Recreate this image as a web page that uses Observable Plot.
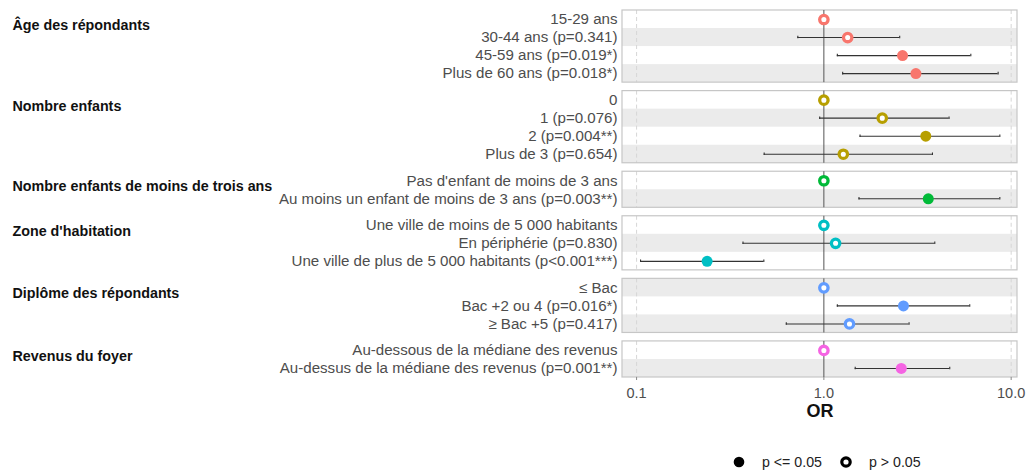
<!DOCTYPE html>
<html>
<head>
<meta charset="utf-8">
<script src="https://cdn.jsdelivr.net/npm/d3@7"></script>
<script src="https://cdn.jsdelivr.net/npm/@observablehq/plot@0.6"></script>
<style>
  html, body { margin: 0; padding: 0; background: #fff; }
  body { width: 1028px; height: 474px; position: relative; overflow: hidden; font-family: "Liberation Sans", Arial, sans-serif; }
  #legend { position: absolute; left: 732px; top: 455px; display: flex; align-items: center; font-size: 14.2px; color: #222; line-height: 14px; }
  #legend svg { display: block; }
  #legend span.l0 { margin-left: 16px; margin-right: 17px; }
  #legend span.l1 { margin-left: 16px; }
</style>
</head>
<body>
<div id="chart"></div>
<div id="legend"></div>
<script>
// ---- data ----
const groups = [
  "Âge des répondants",
  "Nombre enfants",
  "Nombre enfants de moins de trois ans",
  "Zone d'habitation",
  "Diplôme des répondants",
  "Revenus du foyer"
];
const rowGroup = [0,0,0,0, 1,1,1,1, 2,2, 3,3,3, 4,4,4, 5,5];
const rowLabels = [
  "15-29 ans", "30-44 ans (p=0.341)", "45-59 ans (p=0.019*)", "Plus de 60 ans (p=0.018*)",
  "0", "1 (p=0.076)", "2 (p=0.004**)", "Plus de 3 (p=0.654)",
  "Pas d'enfant de moins de 3 ans", "Au moins un enfant de moins de 3 ans (p=0.003**)",
  "Une ville de moins de 5 000 habitants", "En périphérie (p=0.830)", "Une ville de plus de 5 000 habitants (p<0.001***)",
  "≤ Bac", "Bac +2 ou 4 (p=0.016*)", "≥ Bac +5 (p=0.417)",
  "Au-dessous de la médiane des revenus", "Au-dessus de la médiane des revenus (p=0.001**)"
];
const oddsRatio = [1, 1.34, 2.63, 3.10, 1, 2.05, 3.50, 1.27, 1, 3.61, 1, 1.155, 0.238, 1, 2.66, 1.37, 1, 2.59];
const ciLow  = [null, 0.726, 1.18, 1.26, null, 0.95, 1.56, 0.48, null, 1.54, null, 0.37, 0.105, null, 1.18, 0.63, null, 1.47];
const ciHigh = [null, 2.54, 6.09, 8.52, null, 4.66, 8.70, 3.80, null, 8.70, null, 3.91, 0.478, null, 6.01, 2.85, null, 4.70];
const pValues = [null, 0.341, 0.019, 0.018, null, 0.076, 0.004, 0.654, null, 0.003, null, 0.830, 0.0009, null, 0.016, 0.417, null, 0.001];
const xTicks = [0.1, 1, 10];
const legendLabels = ["p <= 0.05", "p > 0.05"];
const groupColors = ["#F8766D", "#B79F00", "#00BA38", "#00BFC4", "#619CFF", "#F564E3"];

// ---- layout helpers ----
const GAP = 0.47; // gap between panels, in row units
const rows = rowLabels.map((label, i) => {
  const top = i + rowGroup[i] * GAP;
  return {
    i, label, group: groups[rowGroup[i]], top, bottom: top + 1, c: top + 0.5,
    or: oddsRatio[i], lo: ciLow[i], hi: ciHigh[i], p: pValues[i],
    sig: pValues[i] != null && pValues[i] <= 0.05
  };
});
const total = rows[rows.length - 1].bottom;
const panels = groups.map((g, gi) => {
  const r = rows.filter(d => rowGroup[d.i] === gi);
  return { group: g, top: d3.min(r, d => d.top), bottom: d3.max(r, d => d.bottom) };
});
const stripes = rows.filter(d => d.i % 2 === 1);
const ciRows = rows.filter(d => d.lo != null);
const gridLines = panels.flatMap(p => [xTicks[0], xTicks[2]].map(x => ({ x, top: p.top, bottom: p.bottom })));
const color = d3.scaleOrdinal(groups, groupColors);

const plot = Plot.plot({
  width: 1028,
  height: 430,
  marginLeft: 622,
  marginRight: 11,
  marginTop: 10,
  marginBottom: 53,
  style: { fontFamily: "'Liberation Sans', Arial, sans-serif", background: "#fff" },
  x: { type: "log", domain: [0.0841, 10.81] },
  y: { domain: [0, total], reverse: true, axis: null },
  marks: [
    Plot.rect(stripes, { y1: "top", y2: "bottom", fill: "#ebebeb" }),
    Plot.ruleX(gridLines, { x: "x", y1: "top", y2: "bottom", stroke: "#d6d6d6", strokeDasharray: "4,3", strokeWidth: 1 }),
    Plot.rect(panels, { y1: "top", y2: "bottom", fill: "none", stroke: "#c6c6c6", strokeWidth: 1.2 }),
    Plot.ruleX(panels, { x: () => 1, y1: "top", y2: "bottom", stroke: "#555", strokeWidth: 1 }),
    Plot.ruleY(ciRows, { y: "c", x1: "lo", x2: "hi", stroke: "#333", strokeWidth: 1.1 }),
    Plot.ruleX(ciRows, { x: "lo", y1: d => d.c - 0.07, y2: d => d.c + 0.07, stroke: "#333", strokeWidth: 1.1 }),
    Plot.ruleX(ciRows, { x: "hi", y1: d => d.c - 0.07, y2: d => d.c + 0.07, stroke: "#333", strokeWidth: 1.1 }),
    Plot.dot(rows.filter(d => d.sig), { x: "or", y: "c", r: 5.5, fill: d => color(d.group), stroke: "none" }),
    Plot.dot(rows.filter(d => !d.sig), { x: "or", y: "c", r: 4.2, fill: "#fff", stroke: d => color(d.group), strokeWidth: 3.3 }),
    Plot.text(rows, { y: "c", text: "label", frameAnchor: "left", textAnchor: "end", dx: -5, fill: "#4d4d4d", fontSize: 15.1 }),
    Plot.text(panels, { y: "top", text: "group", frameAnchor: "left", textAnchor: "start", dx: -610, dy: 15, fill: "#111", fontSize: 14.3, fontWeight: "bold" }),
    Plot.axisX({ ticks: xTicks, tickFormat: d3.format(".1f"), tickSize: 3, tickPadding: 7, stroke: "#888", color: "#4d4d4d", fontSize: 14.5, label: null }),
    Plot.text(["OR"], { frameAnchor: "bottom", dy: 39, text: d => d, fontWeight: "bold", fontSize: 18, fill: "#111" })
  ]
});
document.getElementById("chart").appendChild(plot);

// ---- legend ----
const legend = d3.select("#legend");
legendLabels.forEach((lab, k) => {
  const s = legend.append("svg").attr("width", 14).attr("height", 14);
  if (k === 0) s.append("circle").attr("cx", 7).attr("cy", 7).attr("r", 5.3).attr("fill", "#000");
  else s.append("circle").attr("cx", 7).attr("cy", 7).attr("r", 4.2).attr("fill", "#fff").attr("stroke", "#000").attr("stroke-width", 3.2);
  legend.append("span").attr("class", "l" + k).text(lab);
});
</script>
</body>
</html>
